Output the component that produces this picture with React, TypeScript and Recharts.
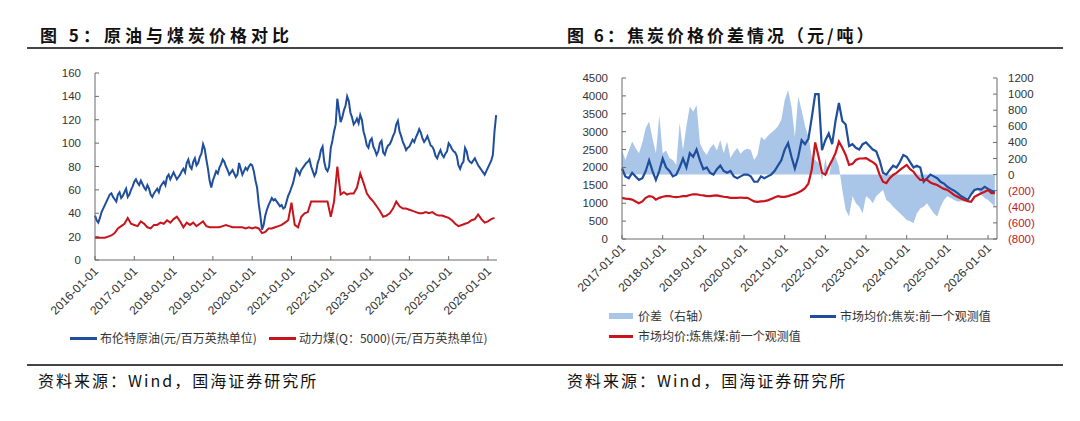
import React from "react"
import { LineChart, ComposedChart, Line, Area, XAxis, YAxis } from "recharts"

// 图5：布伦特半月度（2016-01 起），动力煤月度
const oilStart = 2016
const brent = [
  38, 34, 32, 36, 41, 44, 47, 50, 53, 56, 57, 54, 52, 50, 56, 58, 53, 55, 58, 61, 54, 56, 60, 63,
  67, 69, 66, 64, 68, 65, 62, 60, 64, 61, 56, 54, 57, 59, 61, 58, 63, 65, 67, 64, 71, 73, 69, 72,
  75, 72, 69, 71, 73, 76, 78, 75, 83, 86, 80, 78, 84, 87, 81, 83, 88, 91, 99, 95, 86, 78, 68, 62,
  68, 72, 76, 74, 79, 82, 86, 84, 80, 77, 73, 75, 77, 74, 71, 73, 83, 78, 73, 76, 79, 77, 80, 82,
  81, 76, 68, 62, 48, 38, 26, 30, 38, 43, 47, 50, 53, 51, 52, 50, 48, 46, 47, 44, 45, 50, 55, 58,
  62, 66, 72, 78, 76, 73, 77, 79, 81, 83, 84, 86, 80, 76, 72, 75, 83, 87, 94, 97, 84, 78, 76, 80,
  96, 102, 110, 116, 138, 128, 118, 122, 128, 132, 140, 136, 126, 122, 116, 118, 121, 117, 124, 120, 110, 105, 98, 96,
  102, 104, 97, 94, 90, 93, 100, 102, 92, 90, 95, 98, 99, 102, 106, 109, 116, 119, 110, 106, 101, 98, 94, 96,
  97, 100, 103, 101, 105, 108, 112, 109, 104, 101, 103, 106, 102, 98, 97, 94, 89, 87, 91, 94, 90, 88, 91, 93,
  100, 98, 95, 93, 92, 89, 81, 78, 82, 84, 96, 93, 86, 84, 83, 85, 87, 84, 81, 79, 77, 75, 73, 76,
  79, 82, 85, 90, 110, 124,
]
const thermalCoal = [
  19, 19, 19, 19, 20, 21, 23, 27, 29, 31, 36, 31,
  30, 29, 33, 31, 28, 27, 30, 30, 32, 31, 34, 32,
  35, 37, 33, 28, 32, 30, 32, 29, 31, 33, 29, 28,
  28, 28, 28, 29, 30, 29, 28, 28, 28, 28, 27, 28,
  27, 28, 27, 23, 24, 27, 27, 28, 29, 30, 32, 34,
  49, 30, 28, 37, 40, 41, 50, 50, 50, 50, 50, 50,
  37, 50, 80, 56, 58, 56, 57, 57, 62, 74, 66, 57,
  53, 50, 46, 42, 37, 38, 40, 44, 50, 46, 44, 44,
  43, 42, 41, 40, 40, 41, 40, 41, 39, 38, 38, 37,
  36, 34, 31, 29, 30, 31, 32, 34, 35, 39, 35, 32,
  33, 35, 36,
]
const oilYears = [2016, 2017, 2018, 2019, 2020, 2021, 2022, 2023, 2024, 2025, 2026]
const oilTicks = [0, 20, 40, 60, 80, 100, 120, 140, 160]

// 图6：月度，2017-01 起
const cokeStart = 2017
const coke = [
  1970, 1750, 1700, 1850, 1750, 1650, 1700, 1900, 2200, 1900, 1650, 1900,
  2250, 2000, 1900, 1750, 1800, 2000, 2250, 2000, 2400, 2300, 2500, 2200,
  1950, 2000, 1850, 1800, 1950, 2050, 1900, 1850, 1900, 1750, 1700, 1750,
  1800, 1800, 1750, 1600, 1600, 1750, 1700, 1750, 1800, 1900, 2050, 2200,
  2500, 2680, 2300, 1970, 2300, 2760, 2650, 2800, 3400, 4050, 4050, 2480,
  2760, 2950, 2650, 3300, 3800, 3300, 3200, 2600, 2650, 2550, 2500, 2650,
  2700, 2600, 2500, 2450, 2200, 1850, 1800, 1930, 2050, 2000, 2150, 2350,
  2300, 2150, 2000, 2050, 2000, 1600, 1700, 1800, 1750, 1700, 1600, 1550,
  1460, 1400, 1350, 1280, 1200, 1150, 1090, 1250, 1370, 1400, 1380, 1460,
  1400, 1350, 1320,
]
const cokingCoal = [
  1150, 1130, 1120, 1100, 1050, 1000, 1050, 1150, 1200, 1180, 1100, 1150,
  1180, 1200, 1200, 1180, 1170, 1180, 1200, 1200, 1230, 1250, 1250, 1230,
  1220, 1200, 1200, 1210, 1220, 1200, 1180, 1170, 1150, 1150, 1150, 1160,
  1150, 1150, 1100, 1050, 1040, 1050, 1060, 1080, 1120, 1160, 1200, 1180,
  1180, 1200, 1230, 1260, 1300, 1350, 1420, 1550, 1950, 2700, 2300, 1850,
  1800, 2020, 2200, 2400, 2720, 2550, 2350, 2070, 2100, 2210, 2250, 2250,
  2260, 2200, 2150, 2070, 1800, 1600, 1560, 1700, 1790, 1850, 1930, 2000,
  2070, 1950, 1880, 1750, 1650, 1650, 1650, 1580, 1540, 1510, 1450, 1400,
  1370, 1300, 1230, 1180, 1130, 1090, 1060, 1040, 1180, 1230, 1280, 1320,
  1370, 1280, 1280,
]
const spread = [
  305, 180, 300, 410, 330, 265, 400, 580, 660, 450, 265, 740,
  265, 300, 205, 180, 120, 640, 305, 600, 845, 780, 865, 390,
  300, 245, 330, 380, 300, 430, 265, 410, 205, 280, 330, 260,
  305, 320, 305, 180, 250, 470, 430, 480, 520, 555, 600, 680,
  925, 1050, 845, 470, 970, 800, 600, 470, 220, 180, 140, -70,
  200, -30, 180, 220, 100, -190, -440, -520, -270, -355, -400, -480,
  -270, -300, -355, -270, -230, -190, -315, -350, -400, -440, -480, -520,
  -565, -580, -605, -480, -420, -400, -355, -420, -480, -520, -400, -315,
  -270, -290, -315, -335, -330, -335, -280, -230, -200, -190, -250, -290,
  -315, -355, -400,
]
const cokeYears = [2017, 2018, 2019, 2020, 2021, 2022, 2023, 2024, 2025, 2026]
const cokeTicks = [0, 500, 1000, 1500, 2000, 2500, 3000, 3500, 4000, 4500]
const spreadTicks = [-800, -600, -400, -200, 0, 200, 400, 600, 800, 1000, 1200]

const BLUE = "#1f4e9c"
const RED = "#c8141c"
const AREA = "#a9c6e8"
const AXIS = "#6b6b6b"
const LABEL = "#333"
const NUM_FONT = "'Liberation Sans', Arial, sans-serif"
const CJK = "'Noto Sans CJK SC', sans-serif"

const brentData = brent.map((v, i) => ({ t: oilStart + i / 24, v }))
const coalData = thermalCoal.map((v, i) => ({ t: oilStart + i / 12, v }))
const cokeData = coke.map((v, i) => ({
  t: cokeStart + i / 12,
  coke: v,
  coal: cokingCoal[i],
  spread: spread[i],
}))

const makeDateTick = (dy: number) => (props: any) => {
  const { x, y, payload } = props
  const ax = x + 4
  const ay = y + dy
  return (
    <g>
      <line x1={x} x2={x} y1={y} y2={y - 4} stroke={AXIS} />
      <text
        x={ax}
        y={ay}
        transform={`rotate(-45 ${ax} ${ay})`}
        textAnchor="end"
        fontSize={12}
        fontFamily={NUM_FONT}
        fill={LABEL}
      >
        {`${Math.round(payload.value)}-01-01`}
      </text>
    </g>
  )
}

const LeftTick = (props: any) => {
  const { x, y, payload } = props
  return (
    <g>
      <line x1={x} x2={x + 4} y1={y} y2={y} stroke={AXIS} />
      <text x={x - 14} y={y + 4} textAnchor="end" fontSize={11.5} fontFamily={NUM_FONT} fill={LABEL}>
        {payload.value}
      </text>
    </g>
  )
}

const RightTick = (props: any) => {
  const { x, y, payload } = props
  const v = payload.value
  return (
    <g>
      <line x1={x} x2={x - 4} y1={y} y2={y} stroke={AXIS} />
      <text
        x={x + 11}
        y={y + 4}
        textAnchor="start"
        fontSize={11.5}
        fontFamily={NUM_FONT}
        fill={v < 0 ? RED : LABEL}
      >
        {v < 0 ? `(${-v})` : v}
      </text>
    </g>
  )
}

const legendText: React.CSSProperties = {
  position: "absolute",
  fontFamily: CJK,
  fontSize: 12,
  color: LABEL,
  lineHeight: "14px",
  whiteSpace: "nowrap",
}

const seg = (x: number, y: number, w: number, h: number, color: string) => (
  <div style={{ position: "absolute", left: x, top: y - h / 2, width: w, height: h, background: color }} />
)

export default function App() {
  return (
    <div
      style={{
        position: "absolute",
        left: 0,
        top: 0,
        width: 1080,
        height: 421,
        background: "#fff",
        overflow: "hidden",
      }}
    >
      {/* 标题 */}
      <div
        style={{
          position: "absolute",
          left: 40,
          top: 22,
          fontFamily: CJK,
          fontWeight: 700,
          fontSize: 17,
          letterSpacing: 4,
          color: "#111",
          whiteSpace: "nowrap",
        }}
      >
        图 5：原油与煤炭价格对比
      </div>
      <div
        style={{
          position: "absolute",
          left: 567,
          top: 22,
          fontFamily: CJK,
          fontWeight: 700,
          fontSize: 17,
          letterSpacing: 3,
          color: "#111",
          whiteSpace: "nowrap",
        }}
      >
        图 6：焦炭价格价差情况（元/吨）
      </div>
      <div style={{ position: "absolute", left: 27, top: 47, width: 1036, height: 1.5, background: "#444" }} />

      {/* 图5 */}
      <div style={{ position: "absolute", left: 0, top: 0 }}>
        <LineChart width={540} height={340} margin={{ top: 73, right: 43, bottom: 0, left: 0 }}>
          <XAxis
            dataKey="t"
            type="number"
            domain={[2016, 2026.23]}
            ticks={oilYears}
            interval={0}
            height={80}
            tickSize={0}
            tickMargin={0}
            tickLine={false}
            axisLine={{ stroke: AXIS }}
            tick={makeDateTick(12)}
            allowDuplicatedCategory={false}
          />
          <YAxis
            type="number"
            domain={[0, 160]}
            ticks={oilTicks}
            interval={0}
            width={95}
            tickSize={0}
            tickMargin={0}
            tickLine={false}
            axisLine={{ stroke: AXIS }}
            tick={LeftTick}
          />
          <Line
            data={brentData}
            type="linear"
            dataKey="v"
            stroke={BLUE}
            strokeWidth={2}
            dot={false}
            isAnimationActive={false}
          />
          <Line
            data={coalData}
            type="linear"
            dataKey="v"
            stroke={RED}
            strokeWidth={2}
            dot={false}
            isAnimationActive={false}
          />
        </LineChart>
      </div>

      {/* 图5 图例 */}
      {seg(70, 338, 27, 3, BLUE)}
      <div style={{ ...legendText, left: 100, top: 331 }}>布伦特原油(元/百万英热单位)</div>
      {seg(269, 338, 27, 3, RED)}
      <div style={{ ...legendText, left: 299, top: 331 }}>动力煤(Q：5000)(元/百万英热单位)</div>

      {/* 图6 */}
      <div style={{ position: "absolute", left: 560, top: 0 }}>
        <ComposedChart width={480} height={320} data={cokeData} margin={{ top: 78, right: 0, bottom: 0, left: 0 }}>
          <XAxis
            dataKey="t"
            type="number"
            domain={[2017, 2026.22]}
            ticks={cokeYears}
            interval={0}
            height={81}
            tickSize={0}
            tickMargin={0}
            tickLine={false}
            axisLine={{ stroke: AXIS }}
            tick={makeDateTick(10)}
          />
          <YAxis
            yAxisId="left"
            type="number"
            domain={[0, 4500]}
            ticks={cokeTicks}
            interval={0}
            width={62}
            tickSize={0}
            tickMargin={0}
            tickLine={false}
            axisLine={{ stroke: AXIS }}
            tick={LeftTick}
          />
          <YAxis
            yAxisId="right"
            orientation="right"
            type="number"
            domain={[-800, 1200]}
            ticks={spreadTicks}
            interval={0}
            width={43}
            tickSize={0}
            tickMargin={0}
            tickLine={false}
            axisLine={{ stroke: AXIS }}
            tick={RightTick}
          />
          <Area
            yAxisId="right"
            type="linear"
            dataKey="spread"
            baseValue={0}
            stroke="none"
            fill={AREA}
            fillOpacity={1}
            isAnimationActive={false}
          />
          <Line
            yAxisId="left"
            type="linear"
            dataKey="coke"
            stroke={BLUE}
            strokeWidth={2.2}
            dot={false}
            isAnimationActive={false}
          />
          <Line
            yAxisId="left"
            type="linear"
            dataKey="coal"
            stroke={RED}
            strokeWidth={2.2}
            dot={false}
            isAnimationActive={false}
          />
        </ComposedChart>
      </div>

      {/* 图6 图例 */}
      {seg(609, 316, 24, 6, AREA)}
      <div style={{ ...legendText, left: 638, top: 309 }}>价差（右轴）</div>
      {seg(810, 316, 26, 3, BLUE)}
      <div style={{ ...legendText, left: 840, top: 309 }}>市场均价:焦炭:前一个观测值</div>
      {seg(609, 336, 24, 3, RED)}
      <div style={{ ...legendText, left: 638, top: 329 }}>市场均价:炼焦煤:前一个观测值</div>

      {/* 资料来源 */}
      <div style={{ position: "absolute", left: 27, top: 364, width: 1036, height: 1.5, background: "#444" }} />
      <div
        style={{
          position: "absolute",
          left: 38,
          top: 368,
          fontFamily: CJK,
          fontSize: 16,
          letterSpacing: 2,
          color: "#111",
          whiteSpace: "nowrap",
        }}
      >
        资料来源：Wind，国海证券研究所
      </div>
      <div
        style={{
          position: "absolute",
          left: 567,
          top: 368,
          fontFamily: CJK,
          fontSize: 16,
          letterSpacing: 2,
          color: "#111",
          whiteSpace: "nowrap",
        }}
      >
        资料来源：Wind，国海证券研究所
      </div>
    </div>
  )
}
